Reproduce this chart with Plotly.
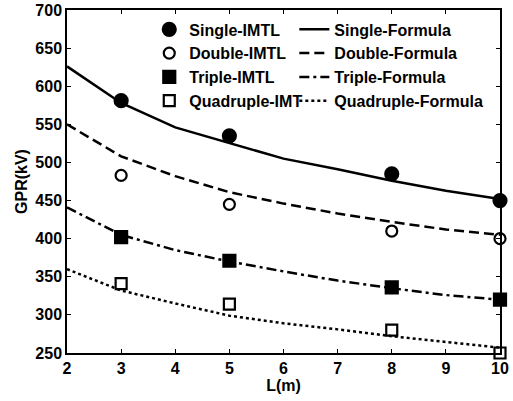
import plotly.graph_objects as go

L_pts = [3, 5, 8, 10]
single_imtl = [581, 535, 485, 450]
double_imtl = [483, 445, 410, 400]
triple_imtl = [402, 371, 336, 320]
quad_imtl = [341, 314, 280, 250]

L_line = [2, 3, 4, 5, 6, 7, 8, 9, 10]
single_formula = [626, 578, 546, 525, 505, 491, 476, 463, 452]
double_formula = [550, 508, 482, 461, 446, 433, 422, 412, 405]
triple_formula = [441, 405, 385, 370, 357, 345, 335, 326, 320]
quad_formula = [360, 332, 315, 299, 289, 281, 272, 265, 257]

x_ticks = [2, 3, 4, 5, 6, 7, 8, 9, 10]
y_ticks = [250, 300, 350, 400, 450, 500, 550, 600, 650, 700]

FONT = "Liberation Sans"
fig = go.Figure()

def pts(name, y, symbol, size):
    fig.add_trace(go.Scatter(x=L_pts, y=y, mode="markers", name=name, legend="legend",
                             marker=dict(symbol=symbol, size=size, color="black",
                                         line=dict(color="black", width=2.2)),
                             cliponaxis=False))

def line(name, y, dash):
    fig.add_trace(go.Scatter(x=L_line, y=y, mode="lines", name=name, legend="legend2",
                             line=dict(color="black", width=2.5, dash=dash)))

pts("Single-IMTL", single_imtl, "circle", 13)
pts("Double-IMTL", double_imtl, "circle-open", 11)
pts("Triple-IMTL", triple_imtl, "square", 12)
pts("Quadruple-IMT", quad_imtl, "square-open", 11)
line("Single-Formula", single_formula, "solid")
line("Double-Formula", double_formula, "10px,5px")
line("Triple-Formula", triple_formula, "10px,4px,3px,4px")
line("Quadruple-Formula", quad_formula, "3px,3px")

tf = dict(family=FONT, size=16, color="black", weight="bold")
axis_common = dict(showline=True, linecolor="black", linewidth=1.5, mirror="ticks",
                   ticks="inside", ticklen=4, tickcolor="black", tickwidth=1,
                   showgrid=False, zeroline=False, tickfont=tf, automargin=False)

fig.update_xaxes(range=[2, 10], tickvals=x_ticks, **axis_common,
                 title=dict(text="L(m)", font=tf, standoff=2))
fig.update_yaxes(range=[250, 700], tickvals=y_ticks, **axis_common,
                 title=dict(text="GPR(kV)", font=tf, standoff=4))

leg_common = dict(orientation="v", y=0.993, xanchor="left", yanchor="top",
                  bgcolor="rgba(0,0,0,0)", borderwidth=0,
                  font=dict(family=FONT, size=16, color="black", weight="bold"),
                  itemwidth=30, tracegroupgap=0)

fig.update_layout(
    width=513, height=401,
    margin=dict(l=67, r=13, t=10, b=48, autoexpand=False),
    paper_bgcolor="white", plot_bgcolor="white",
    font=dict(family=FONT, size=16, color="black", weight="bold"),
    showlegend=True,
    legend=dict(x=0.19, **leg_common),
    legend2=dict(x=0.525, **leg_common),
)

fig.write_html("out.html")
